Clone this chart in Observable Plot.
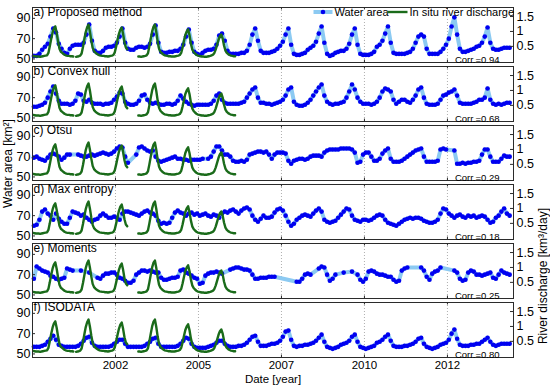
<!DOCTYPE html>
<html><head><meta charset="utf-8">
<script src="https://cdn.jsdelivr.net/npm/d3@7"></script>
<script src="https://cdn.jsdelivr.net/npm/@observablehq/plot@0.6"></script>
<style>html,body{margin:0;padding:0;background:#fff;} #chart{width:550px;height:388px;}</style>
</head><body><div id="chart"></div>
<script>
// ---------- data ----------
const panelLabels = ["a) Proposed method", "b) Convex hull", "c) Otsu", "d) Max entropy", "e) Moments", "f) ISODATA"];
const corrLabels = ["Corr.=0.94", "Corr.=0.68", "Corr.=0.29", "Corr.=0.18", "Corr.=0.25", "Corr.=0.80"];
const xTickValues = [2002.5, 2005, 2007.5, 2010, 2012.5];
const xTickLabels = ["2002", "2005", "2007", "2010", "2012"];
const areaTicks = [50, 70, 90];
const dischargeTicks = [0.5, 1, 1.5];
const seriesStart = 2000; // monthly water area from Jan 2000, half-monthly discharge from Jan 2000

// water area [km²], monthly, Jan 2000 – May 2014 (null = no observation)
const areaA = [
 53,53,55,59,62,65,72,80,76,65,60,56,
 55,60,63,64,64,64,66,74,84,68,58,56,
 56,58,61,62,62,63,66,72,80,66,60,59,
 59,61,62,62,61,62,65,74,83,66,57,56,
 56,57,57,58,58,60,64,72,79,66,57,55,
 54,56,58,59,59,60,64,73,75,68,58,55,
 55,55,55,56,56,58,64,74,80,68,58,56,
 56,56,57,58,60,63,67,74,80,64,55,54,
 54,55,56,59,61,63,67,75,82,66,55,53,
 54,56,57,58,58,60,65,74,80,64,55,54,
 54,54,55,57,62,64,68,75,82,66,56,55,
 55,55,55,56,57,60,66,72,74,72,60,55,
 55,55,55,57,60,64,70,82,91,74,60,57,
 57,58,59,60,62,63,66,72,81,66,60,59,
 59,60,61,61,61];
const areaB = [
 61,61,62,63,65,70,76,81,74,67,64,64,
 64,63,64,67,74,73,67,66,68,65,64,64,
 64,63,64,64,65,68,71,75,74,66,64,63,
 63,64,67,72,73,68,65,64,65,64,63,63,
 64,64,63,64,67,72,69,66,64,63,62,63,
 63,63,63,63,64,67,72,74,68,65,64,64,
 64,64,64,65,66,70,74,78,80,70,65,65,
 64,64,63,64,65,66,68,72,78,80,66,63,
 62,62,63,65,68,72,76,80,83,72,66,64,
 63,64,64,65,66,70,76,83,78,70,66,64,
 64,64,63,64,66,70,76,79,78,76,68,64,
 66,68,68,66,65,68,72,78,80,70,64,63,
 63,63,64,68,72,73,75,76,78,72,65,64,
 64,64,64,65,66,68,68,70,79,68,64,63,
 64,63,64,65,65];
const areaC = [
 69,70,68,67,66,69,72,73,72,70,67,69,
 72,72,null,null,72,71,70,70,71,72,71,72,
 73,74,73,72,73,75,78,80,79,70,64,null,
 null,72,79,80,78,76,75,76,70,66,65,66,
 67,68,69,70,68,68,67,67,66,67,67,67,
 67,68,null,68,70,75,80,80,76,72,72,70,
 66,65,65,66,65,67,72,73,74,75,75,74,
 75,72,68,72,74,74,74,73,66,63,66,67,
 68,68,67,68,70,71,71,71,70,74,76,77,
 77,77,77,78,78,78,78,77,74,64,65,72,
 74,74,70,66,66,68,73,76,78,68,65,65,
 65,66,68,70,72,74,76,77,78,70,65,65,
 65,65,66,77,78,77,null,null,76,63,63,64,
 63,64,64,65,65,66,72,77,77,70,65,65,
 65,68,71,70,70];
const areaD = [
 60,61,66,74,76,72,70,66,72,67,64,62,
 62,68,74,73,72,70,71,68,66,64,66,67,
 70,72,70,68,68,69,68,66,72,74,74,73,
 72,71,70,72,74,75,73,72,70,65,62,63,
 62,63,68,73,75,73,72,70,72,73,71,72,
 70,71,72,70,69,71,70,68,72,74,73,75,
 76,74,72,75,77,78,76,70,66,64,67,70,
 68,68,69,73,76,77,75,70,64,60,62,66,
 68,70,71,70,69,72,75,77,74,66,64,63,
 64,65,68,71,74,77,76,70,66,65,64,66,
 66,65,66,68,70,71,70,66,63,62,61,60,
 62,64,66,67,68,67,68,68,67,65,64,63,
 63,64,66,72,77,76,72,70,68,70,71,69,
 68,70,69,70,68,69,70,69,66,63,64,68,
 70,74,77,72,70];
const areaE = [
 66,78,76,74,73,72,69,68,66,65,66,67,
 76,75,74,null,null,74,null,null,72,null,null,67,
 66,69,71,71,72,72,70,67,66,64,62,62,
 64,70,72,74,74,73,74,73,72,72,67,65,
 65,66,67,67,68,74,75,72,71,69,67,66,
 61,62,69,71,72,72,73,72,71,null,null,75,
 76,77,77,76,75,75,74,70,66,66,67,67,
 67,68,68,68,null,null,null,null,null,null,null,63,
 63,66,70,71,70,null,null,76,78,77,70,64,
 66,70,null,null,72,null,null,73,null,70,65,63,
 66,73,74,73,71,70,70,69,68,68,65,63,
 64,74,76,77,null,null,null,null,77,74,68,65,
 71,73,74,77,null,null,null,null,74,72,66,64,
 65,72,74,73,70,70,69,70,71,72,67,66,
 70,74,72,71,70];
const areaF = [
 57,57,57,58,59,62,65,68,64,59,58,57,
 57,57,57,57,58,60,63,66,67,61,58,57,
 57,57,57,57,58,60,62,64,64,60,57,57,
 57,57,57,57,58,60,62,65,66,60,57,57,
 57,57,57,57,58,60,63,66,65,60,57,56,
 56,56,56,57,58,59,61,63,63,60,58,57,
 57,57,58,58,59,61,64,67,68,62,58,58,
 58,59,60,60,61,63,67,72,73,64,58,57,
 58,58,59,59,60,61,63,66,69,62,57,56,
 55,56,57,59,60,61,63,67,69,62,57,56,
 55,56,57,58,61,62,64,67,69,63,58,57,
 57,57,58,58,59,60,62,65,66,60,57,56,
 55,56,57,59,60,61,64,70,74,65,59,58,
 58,58,59,59,60,60,62,64,66,62,59,58,
 59,60,60,60,60];

// in situ river discharge [km³/day], half-monthly from Jan 2000 (null = no record)
const discharge = [
 0.18,0.17,0.16,0.16,0.16,0.15,0.16,0.17,0.18,0.19,0.20,0.28,0.50,0.75,0.96,1.10,1.17,0.95,0.66,0.42,0.32,0.28,0.24,0.21,
 0.19,0.18,0.18,0.17,0.17,0.16,null,0.15,0.16,0.17,0.19,0.26,0.48,0.74,0.98,1.14,1.23,1.00,0.70,0.45,0.34,0.29,0.25,0.22,
 0.20,0.19,0.18,0.18,0.17,0.17,0.16,0.17,0.18,0.19,0.21,0.30,0.50,0.72,0.92,1.06,1.13,0.92,0.64,0.46,0.40,null,null,null,
 null,null,null,null,0.16,0.16,0.15,0.16,0.17,0.18,0.20,0.27,0.50,0.76,1.00,1.16,1.23,0.98,0.66,0.42,0.32,0.27,0.23,0.20,
 0.19,0.18,0.17,0.17,0.16,0.16,0.16,0.17,0.18,0.19,0.21,0.28,0.46,0.68,0.88,1.00,1.07,0.88,0.60,0.40,0.31,0.26,0.22,0.19,
 0.18,0.17,0.16,0.16,0.15,0.15,0.16,0.17,0.18,0.20,0.22,0.28,0.40,0.56,0.72,0.84,0.90,0.76,0.52,0.36,0.28,0.24,0.21,0.19,
 0.18,0.17,0.17];

// ---------- layout / styles ----------
const W = 550, H = 388, mL = 32, mR = 37, mT = 4, mB = 29;
const facetGap = 0.072;
const bw = (H - mT - mB) / (panelLabels.length - facetGap) * (1 - facetGap);
const plotW = W - mL - mR;
const lightBlue = "#8ccaf2", blue = "#0000f0", green = "#1a6b1a", frameColor = "#2b2b2b";
// secondary (discharge) axis expressed in water-area units
const toArea = d => 47.7 + 29.4 * d;

const areaSeries = [areaA, areaB, areaC, areaD, areaE, areaF];
const areaRows = areaSeries.flatMap((vals, k) =>
  vals.map((v, i) => ({panel: panelLabels[k], t: seriesStart + (i + 0.5) / 12, v}))
).filter(d => d.v != null);
const flowRows = panelLabels.flatMap(p =>
  discharge.map((v, i) => ({panel: p, t: seriesStart + (i + 0.5) / 24, y: v == null ? NaN : toArea(v)}))
);
const xLabelMap = new Map(xTickValues.map((v, i) => [v, xTickLabels[i]]));
const rightTickPos = dischargeTicks.map(toArea);
const rightLabelMap = new Map(dischargeTicks.map(d => [toArea(d), String(d)]));
const corrRows = panelLabels.map((p, i) => ({panel: p, c: corrLabels[i]}));
const legendRow = [panelLabels[0]];
const rectSymbol = (w, h) => ({draw(ctx) {
  ctx.moveTo(-w / 2, -h / 2); ctx.lineTo(w / 2, -h / 2); ctx.lineTo(w / 2, h / 2); ctx.lineTo(-w / 2, h / 2); ctx.closePath();
}});

const chart = Plot.plot({
  width: W, height: H,
  marginLeft: mL, marginRight: mR, marginTop: mT, marginBottom: mB,
  style: {fontFamily: "'Liberation Sans', Arial, sans-serif", fontSize: "11px", color: "#000", background: "#fff"},
  x: {domain: [2000, 2014.49]},
  y: {domain: [46.5, 100.7]},
  fy: {domain: panelLabels, axis: null, paddingInner: facetGap, paddingOuter: 0},
  marks: [
    Plot.ruleX(xTickValues, {stroke: "#9a9a9a", strokeDasharray: "1,2", strokeWidth: 0.8}),
    Plot.dot(legendRow, {fy: d => d, frameAnchor: "top-right", dx: -101, dy: 5, symbol: rectSymbol(200, 10), fill: "#fff", stroke: "none"}),
    Plot.line(areaRows, {x: "t", y: "v", fy: "panel", z: "panel", stroke: lightBlue, strokeWidth: 4, strokeLinejoin: "round", strokeLinecap: "round"}),
    Plot.dot(areaRows, {x: "t", y: "v", fy: "panel", r: 2.3, fill: blue, stroke: "none"}),
    Plot.line(flowRows, {x: "t", y: "y", fy: "panel", z: "panel", stroke: green, strokeWidth: 2.4}),
    Plot.frame({stroke: frameColor, strokeWidth: 1}),
    Plot.tickY(areaTicks, {stroke: frameColor, insetRight: plotW - 3}),
    Plot.tickY(rightTickPos, {stroke: frameColor, insetLeft: plotW - 3}),
    Plot.tickX(xTickValues, {stroke: frameColor, insetBottom: bw - 3}),
    Plot.tickX(xTickValues, {stroke: frameColor, insetTop: bw - 3}),
    Plot.axisY({anchor: "left", ticks: areaTicks, tickSize: 0, tickPadding: 2, label: null, fontSize: 12.5}),
    Plot.axisY({anchor: "right", ticks: rightTickPos, tickFormat: v => rightLabelMap.get(v), tickSize: 0, tickPadding: 3, label: null, fontSize: 12.5}),
    Plot.axisX({anchor: "bottom", ticks: xTickValues, tickFormat: v => xLabelMap.get(v), tickSize: 0, tickPadding: 3, label: null, fontSize: 11.5}),
    Plot.text(panelLabels, {fy: d => d, text: d => d, frameAnchor: "top-left", textAnchor: "start", lineAnchor: "top", dx: 1, dy: 0, fontSize: 12}),
    Plot.text(corrRows, {fy: "panel", text: "c", frameAnchor: "bottom-right", textAnchor: "end", lineAnchor: "bottom", dx: -14, dy: 0, fontSize: 9.5}),
    // legend (panel a)
    Plot.dot(legendRow, {fy: d => d, frameAnchor: "top-right", dx: -190.5, dy: 4.5, symbol: rectSymbol(19, 4), fill: lightBlue, stroke: "none"}),
    Plot.dot(legendRow, {fy: d => d, frameAnchor: "top-right", dx: -190.5, dy: 4.5, r: 2.3, fill: blue, stroke: "none"}),
    Plot.text(legendRow, {fy: d => d, frameAnchor: "top-right", text: () => "Water area", textAnchor: "start", lineAnchor: "middle", dx: -179, dy: 4.5, fontSize: 11}),
    Plot.dot(legendRow, {fy: d => d, frameAnchor: "top-right", dx: -116, dy: 4.5, symbol: rectSymbol(20, 2.4), fill: green, stroke: "none"}),
    Plot.text(legendRow, {fy: d => d, frameAnchor: "top-right", text: () => "In situ river discharge", textAnchor: "start", lineAnchor: "middle", dx: -104, dy: 4.5, fontSize: 11}),
    // axis titles
    Plot.text([panelLabels[3]], {fy: d => d, frameAnchor: "left", text: () => "Water area [km²]", rotate: -90, dx: -24, dy: -4, fontSize: 12}),
    Plot.text([panelLabels[3]], {fy: d => d, frameAnchor: "right", text: () => "River discharge [km³/day]", rotate: -90, dx: 30, dy: -4, fontSize: 12}),
    Plot.text([panelLabels[5]], {fy: d => d, frameAnchor: "bottom", text: () => "Date [year]", lineAnchor: "middle", dy: 22, fontSize: 11.5})
  ]
});
document.getElementById("chart").append(chart);
</script>
</body></html>
